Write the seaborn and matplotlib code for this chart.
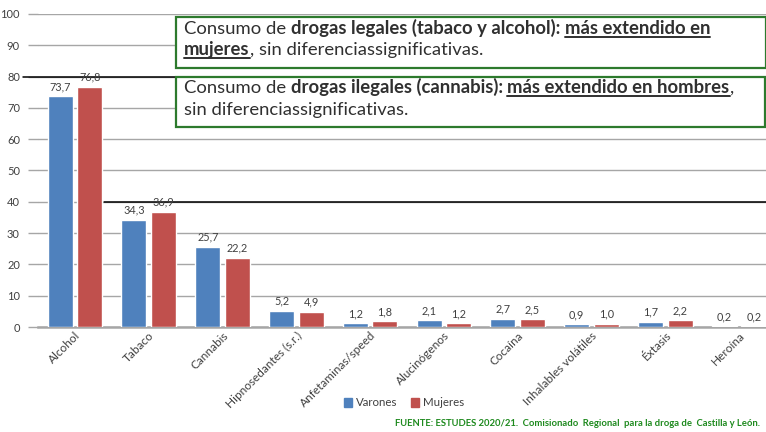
import seaborn as sns
import matplotlib.pyplot as plt
import pandas as pd
from matplotlib.lines import Line2D
from matplotlib.patches import Rectangle

# Datos
categorias = ['Alcohol', 'Tabaco', 'Cannabis', 'Hipnosedantes (s.r.)', 'Anfetaminas/speed',
              'Alucinógenos', 'Cocaína', 'Inhalables volátiles', 'Éxtasis', 'Heroína']
varones = [73.7, 34.3, 25.7, 5.2, 1.2, 2.1, 2.7, 0.9, 1.7, 0.2]
mujeres = [76.8, 36.9, 22.2, 4.9, 1.8, 1.2, 2.5, 1.0, 2.2, 0.2]
sexos = ['Varones', 'Mujeres']
colores = ['#4F81BD', '#C0504D']
yticks = [0, 10, 20, 30, 40, 50, 60, 70, 80, 90, 100]
fuente = 'FUENTE: ESTUDES 2020/21.  Comisionado  Regional  para la droga de  Castilla y León.'

df = pd.DataFrame({
    'Droga': categorias * 2,
    'Sexo': ['Varones'] * len(categorias) + ['Mujeres'] * len(categorias),
    'Valor': varones + mujeres,
})

sns.set_theme(style="white")
plt.rcParams['font.family'] = ['Lato', 'DejaVu Sans']

W, H = 766, 432
fig = plt.figure(figsize=(W / 100, H / 100), dpi=100)
ax = fig.add_axes([38 / W, 105 / H, 738 / W, 313 / H])

sns.barplot(data=df, x='Droga', y='Valor', hue='Sexo', hue_order=sexos,
            palette=colores, width=0.8, gap=0.15, saturation=1, ax=ax, zorder=3)

for cont in ax.containers:
    vals = [b.get_height() for b in cont]
    ax.bar_label(cont, labels=[f"{v:.1f}".replace('.', ',') for v in vals],
                 padding=3, fontsize=7.8, color='#404040', zorder=4)

ax.set_xlim(-0.5, 9.5)
ax.set_ylim(0, 100)
ax.set_yticks(yticks)
ax.set_yticklabels([str(t) for t in yticks], fontsize=8, color='#404040')
ax.yaxis.grid(True, color='#A6A6A6', linewidth=1)
ax.set_axisbelow(True)
ax.tick_params(axis='y', length=7, color='#A6A6A6', width=1, left=True, pad=6)
ax.tick_params(axis='x', length=0, pad=2)
ax.set_xticks(range(len(categorias)))
ax.set_xticklabels(categorias, rotation=45, ha='right', rotation_mode='anchor',
                   fontsize=8.5, color='#404040')
ax.set_xlabel('')
ax.set_ylabel('')
for s in ['top', 'right', 'left']:
    ax.spines[s].set_visible(False)
ax.spines['bottom'].set_color('#A6A6A6')
ax.spines['bottom'].set_linewidth(1.8)

# líneas negras de separación
ax.axhline(80, xmin=-0.02, color='black', linewidth=1.1, zorder=2, clip_on=False)
ax.axhline(40, xmin=0.09, color='black', linewidth=1.1, zorder=2)

# leyenda
ax.legend_.remove()
handles = [Rectangle((0, 0), 1, 1, color=c) for c in colores]
fig.legend(handles, sexos, loc='center', bbox_to_anchor=(404 / W, 1 - 403 / H),
           ncol=2, frameon=False, fontsize=8.3, handlelength=0.7, handleheight=0.7,
           handletextpad=0.3, columnspacing=1.2, labelcolor='#404040')

fig.text(760 / W, 1 - 423 / H, fuente, ha='right', va='center', fontsize=6.8,
         fontweight='bold', color='#1E8A1E')

# cuadros de texto
verde = '#2D7A2D'
for (x0, y0, x1, y1) in [(176, 17, 766, 68), (176, 77, 765, 127)]:
    fig.patches.append(Rectangle((x0 / W, 1 - y1 / H), (x1 - x0) / W, (y1 - y0) / H,
                                 transform=fig.transFigure, facecolor='white',
                                 edgecolor=verde, linewidth=1.6, zorder=5))

renderer = fig.canvas.get_renderer()
fs = 13.3
txt_color = '#303030'


def ancho(s, weight):
    t = fig.text(0, 0, s + '|', fontsize=fs, fontweight=weight)
    r = fig.text(0, 0, '|', fontsize=fs, fontweight=weight)
    w = t.get_window_extent(renderer).width - r.get_window_extent(renderer).width
    t.remove()
    r.remove()
    return w


def linea(x, y, partes):
    for s, weight, sub in partes:
        fig.text(x / W, 1 - y / H, s, fontsize=fs, fontweight=weight, color=txt_color,
                 va='baseline', ha='left', zorder=6)
        w = ancho(s, weight)
        if sub:
            ws = w - (ancho(' ', weight) if s.endswith(' ') else 0)
            fig.lines.append(Line2D([x / W, (x + ws) / W], [1 - (y + 3) / H] * 2,
                                    transform=fig.transFigure, color=txt_color,
                                    linewidth=1.4, zorder=6))
        x += w


linea(184, 34, [('Consumo de ', 'normal', False),
                ('drogas legales (tabaco y alcohol): ', 'bold', False),
                ('más extendido en', 'bold', True)])
linea(184, 55, [('mujeres', 'bold', True),
                (', sin diferenciassignificativas.', 'normal', False)])
linea(184, 93, [('Consumo de ', 'normal', False),
                ('drogas ilegales (cannabis): ', 'bold', False),
                ('más extendido en hombres', 'bold', True),
                (',', 'normal', False)])
linea(184, 115, [('sin diferenciassignificativas.', 'normal', False)])

fig.savefig('out.png', dpi=100)
